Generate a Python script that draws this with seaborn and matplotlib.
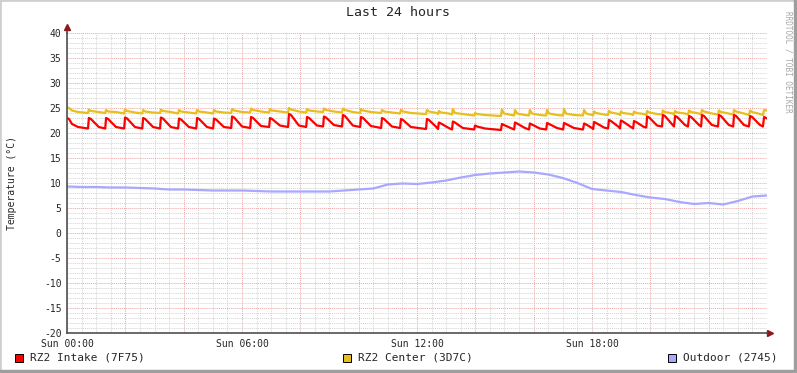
import matplotlib
matplotlib.use('Agg')
import matplotlib.pyplot as plt
import seaborn as sns
import numpy as np
import pandas as pd
from matplotlib.patches import Rectangle

# hours since Sun 00:00, knots of the two indoor sensors
hours = [0.00, 0.07, 0.17, 0.38,
         0.72, 0.75, 0.82, 1.09,
         1.31, 1.34, 1.41, 1.68,
         1.96, 1.99, 2.06, 2.33,
         2.58, 2.61, 2.68, 2.95,
         3.19, 3.22, 3.29, 3.56,
         3.81, 3.84, 3.91, 4.18,
         4.43, 4.46, 4.53, 4.80,
         5.01, 5.04, 5.11, 5.38,
         5.63, 5.66, 5.73, 6.00,
         6.28, 6.31, 6.38, 6.65,
         6.93, 6.96, 7.03, 7.30,
         7.58, 7.61, 7.68, 7.95,
         8.20, 8.23, 8.30, 8.57,
         8.78, 8.81, 8.88, 9.15,
         9.43, 9.46, 9.53, 9.80,
         10.05, 10.08, 10.15, 10.42,
         10.77, 10.80, 10.87, 11.14,
         11.42, 11.45, 11.52, 11.79,
         12.31, 12.34, 12.41, 12.68,
         12.72, 12.75, 12.82, 13.09,
         13.20, 13.23, 13.30, 13.57,
         13.96, 13.99, 14.06, 14.33,
         14.88, 14.91, 14.98, 15.25,
         15.33, 15.36, 15.43, 15.70,
         15.84, 15.87, 15.94, 16.21,
         16.43, 16.46, 16.53, 16.80,
         17.01, 17.04, 17.11, 17.38,
         17.69, 17.73, 17.80, 18.00,
         18.04, 18.07, 18.14, 18.41,
         18.55, 18.58, 18.65, 18.92,
         18.96, 18.99, 19.06, 19.33,
         19.41, 19.44, 19.51, 19.78,
         19.86, 19.89, 19.96, 20.23,
         20.40, 20.43, 20.50, 20.77,
         20.81, 20.85, 20.92, 21.19,
         21.29, 21.33, 21.40, 21.67,
         21.74, 21.77, 21.84, 22.11,
         22.32, 22.35, 22.42, 22.69,
         22.84, 22.87, 22.94, 23.21,
         23.38, 23.42, 23.49, 23.76,
         23.86, 23.90, 23.97, 24.00]

intake = [23.0, 22.8, 21.8, 21.2,
          20.9, 23.0, 22.8, 21.2,
          20.9, 23.0, 22.8, 21.2,
          20.9, 23.1, 22.9, 21.2,
          20.9, 23.0, 22.8, 21.2,
          20.9, 23.1, 22.9, 21.2,
          20.9, 22.9, 22.7, 21.2,
          20.9, 23.0, 22.8, 21.2,
          20.9, 22.9, 22.7, 21.2,
          21.0, 23.3, 23.1, 21.3,
          21.0, 23.2, 23.0, 21.4,
          21.2, 23.0, 22.8, 21.5,
          21.2, 23.8, 23.6, 21.5,
          21.2, 23.2, 23.0, 21.5,
          21.3, 23.3, 23.1, 21.6,
          21.3, 23.6, 23.4, 21.5,
          21.2, 23.2, 23.0, 21.4,
          21.0, 23.0, 22.8, 21.3,
          21.0, 22.8, 22.6, 21.2,
          20.8, 22.8, 22.6, 21.1,
          20.8, 22.1, 21.9, 21.0,
          20.7, 22.3, 22.1, 21.0,
          20.7, 21.5, 21.3, 20.9,
          20.6, 21.8, 21.6, 20.9,
          20.7, 22.1, 21.9, 21.0,
          20.7, 21.9, 21.7, 20.9,
          20.7, 22.0, 21.8, 21.0,
          20.7, 22.0, 21.8, 21.0,
          20.7, 21.9, 21.7, 21.0,
          20.8, 22.2, 22.0, 21.1,
          20.9, 22.6, 22.4, 21.2,
          20.9, 22.5, 22.3, 21.2,
          20.9, 22.4, 22.2, 21.2,
          21.1, 23.3, 23.1, 21.5,
          21.3, 23.6, 23.4, 21.6,
          21.3, 23.4, 23.2, 21.6,
          21.3, 23.4, 23.2, 21.6,
          21.3, 23.6, 23.4, 21.6,
          21.3, 23.6, 23.4, 21.6,
          21.3, 23.6, 23.4, 21.6,
          21.3, 23.4, 23.2, 21.6,
          21.3, 23.2, 23.0, 22.9]

center = [25.1, 25.0, 24.5, 24.2,
          24.0, 24.7, 24.4, 24.2,
          24.0, 24.6, 24.3, 24.2,
          23.9, 24.7, 24.4, 24.1,
          23.9, 24.6, 24.3, 24.1,
          24.0, 24.7, 24.4, 24.2,
          23.9, 24.6, 24.3, 24.1,
          23.9, 24.6, 24.3, 24.1,
          23.9, 24.6, 24.3, 24.1,
          24.0, 24.8, 24.5, 24.2,
          24.1, 24.9, 24.6, 24.3,
          24.1, 24.8, 24.5, 24.3,
          24.1, 25.0, 24.7, 24.3,
          24.1, 24.8, 24.5, 24.3,
          24.2, 24.9, 24.6, 24.3,
          24.1, 24.9, 24.6, 24.2,
          24.0, 24.8, 24.5, 24.2,
          24.0, 24.6, 24.3, 24.1,
          23.9, 24.6, 24.3, 24.0,
          23.8, 24.6, 24.3, 24.0,
          23.8, 24.4, 24.1, 23.9,
          23.7, 24.8, 24.0, 23.8,
          23.5, 24.0, 23.8, 23.6,
          23.4, 24.7, 23.9, 23.6,
          23.5, 24.6, 23.9, 23.6,
          23.5, 24.6, 23.9, 23.6,
          23.5, 24.6, 23.9, 23.6,
          23.5, 24.8, 23.9, 23.6,
          23.5, 24.6, 23.9, 23.6,
          23.5, 24.3, 24.0, 23.7,
          23.6, 24.4, 24.1, 23.8,
          23.6, 24.3, 24.0, 23.8,
          23.6, 24.3, 24.0, 23.8,
          23.6, 24.4, 24.1, 23.8,
          23.7, 24.5, 24.2, 23.9,
          23.7, 24.4, 24.1, 23.9,
          23.7, 24.5, 24.2, 23.9,
          23.7, 24.6, 24.3, 23.9,
          23.7, 24.5, 24.2, 23.9,
          23.7, 24.6, 24.3, 23.9,
          23.6, 24.5, 24.2, 23.8,
          23.6, 24.6, 24.5, 24.6]

# outdoor sensor, every half hour
out_hours = [i * 0.5 for i in range(49)]
outdoor = [9.3, 9.2, 9.2, 9.1, 9.1, 9.0, 8.9, 8.7, 8.7, 8.6,
           8.5, 8.5, 8.5, 8.4, 8.3, 8.3, 8.3, 8.3, 8.3, 8.5,
           8.7, 8.9, 9.7, 9.9, 9.8, 10.1, 10.5, 11.1, 11.6, 11.9,
           12.1, 12.3, 12.1, 11.7, 11.0, 10.0, 8.8, 8.5, 8.2, 7.6,
           7.1, 6.8, 6.2, 5.8, 6.0, 5.7, 6.4, 7.3, 7.5]

series = ['RZ2 Intake (7F75)', 'RZ2 Center (3D7C)', 'Outdoor (2745)']
colors = ['#FF0000', '#E8BE1C', '#A8A8FF']
day_labels = ['Sun 00:00', 'Sun 06:00', 'Sun 12:00', 'Sun 18:00']

sns.set_style('white')
plt.rcParams['font.family'] = ['DejaVu Sans Mono']
plt.rcParams['axes.unicode_minus'] = False

fig = plt.figure(figsize=(7.97, 3.73), dpi=100)
fig.patch.set_facecolor('#FFFFFF')
ax = fig.add_axes([67 / 797, 1 - 333 / 373, 700 / 797, 300 / 373])
ax.set_facecolor('#FFFFFF')

sns.lineplot(x=out_hours, y=outdoor, color=colors[2], lw=1.6, ax=ax,
             estimator=None, sort=False)
sns.lineplot(x=hours, y=center, color=colors[1], lw=1.6, ax=ax,
             estimator=None, sort=False)
sns.lineplot(x=hours, y=intake, color=colors[0], lw=1.6, ax=ax,
             estimator=None, sort=False)

ax.set_xlim(0, 24)
ax.set_ylim(-20, 40)

xt = np.arange(0, 23, 2)
ax.set_xticks(xt)
ax.set_xticklabels([day_labels[int(h) // 6] if h % 6 == 0 else '' for h in xt])
ax.set_xticks(np.arange(0, 24.01, 0.5), minor=True)
ax.set_yticks(np.arange(-20, 41, 5))
ax.set_yticks(np.arange(-20, 41, 1), minor=True)

ax.grid(which='minor', color='#D4D4D4', ls=(0, (1, 1)), lw=0.7)
ax.grid(which='major', color='#EDA6A6', ls=(0, (1, 1)), lw=0.7)
ax.set_axisbelow(True)

ax.tick_params(axis='x', which='major', length=3, color='#D06060',
               labelsize=7, pad=1)
ax.tick_params(axis='y', which='major', length=3, color='#808080',
               labelsize=7, pad=1)
ax.tick_params(which='minor', length=0)

for s in ['top', 'right']:
    ax.spines[s].set_visible(False)
for s in ['left', 'bottom']:
    ax.spines[s].set_color('#505050')
    ax.spines[s].set_linewidth(1.2)

# axis arrows like rrdtool
ax.plot([24, 24.1], [-20, -20], color='#505050', lw=1.2, clip_on=False)
ax.plot([24.12], [-20], marker='>', color='#8B1A1A', ms=4, clip_on=False)
ax.plot([0, 0], [40, 41.0], color='#505050', lw=1.2, clip_on=False)
ax.plot([0], [41.2], marker='^', color='#8B1A1A', ms=4, clip_on=False)
ax.set_xlabel('')
ax.set_ylabel('')

fig.text(398 / 797, 1 - 13 / 373, 'Last 24 hours', fontsize=9.5,
         ha='center', va='center')
fig.text(12 / 797, 1 - 183 / 373, 'Temperature (°C)', fontsize=7,
         rotation=90, ha='center', va='center')
fig.text(788 / 797, 1 - 62 / 373, 'RRDTOOL / TOBI OETIKER', fontsize=5.5,
         rotation=-90, ha='center', va='center', color='#A8A8A8')

# legend
leg_x = [15, 343, 668]
for name, col, lx in zip(series, colors, leg_x):
    fig.patches.append(Rectangle((lx / 797, 1 - 362 / 373), 8 / 797, 8 / 373,
                                 transform=fig.transFigure, facecolor=col,
                                 edgecolor='black', lw=0.7))
    fig.text((lx + 15) / 797, 1 - 358 / 373, name, fontsize=8,
             ha='left', va='center')

# frame shading
fig.patches.append(Rectangle((0, 0), 1, 1, transform=fig.transFigure,
                             fill=False, edgecolor='#CFCFCF', lw=2))
fig.patches.append(Rectangle((794 / 797, 0), 3 / 797, 1,
                             transform=fig.transFigure, color='#9E9E9E'))
fig.patches.append(Rectangle((0, 0), 1, 3 / 373,
                             transform=fig.transFigure, color='#9E9E9E'))

fig.savefig('out.png', dpi=100)
